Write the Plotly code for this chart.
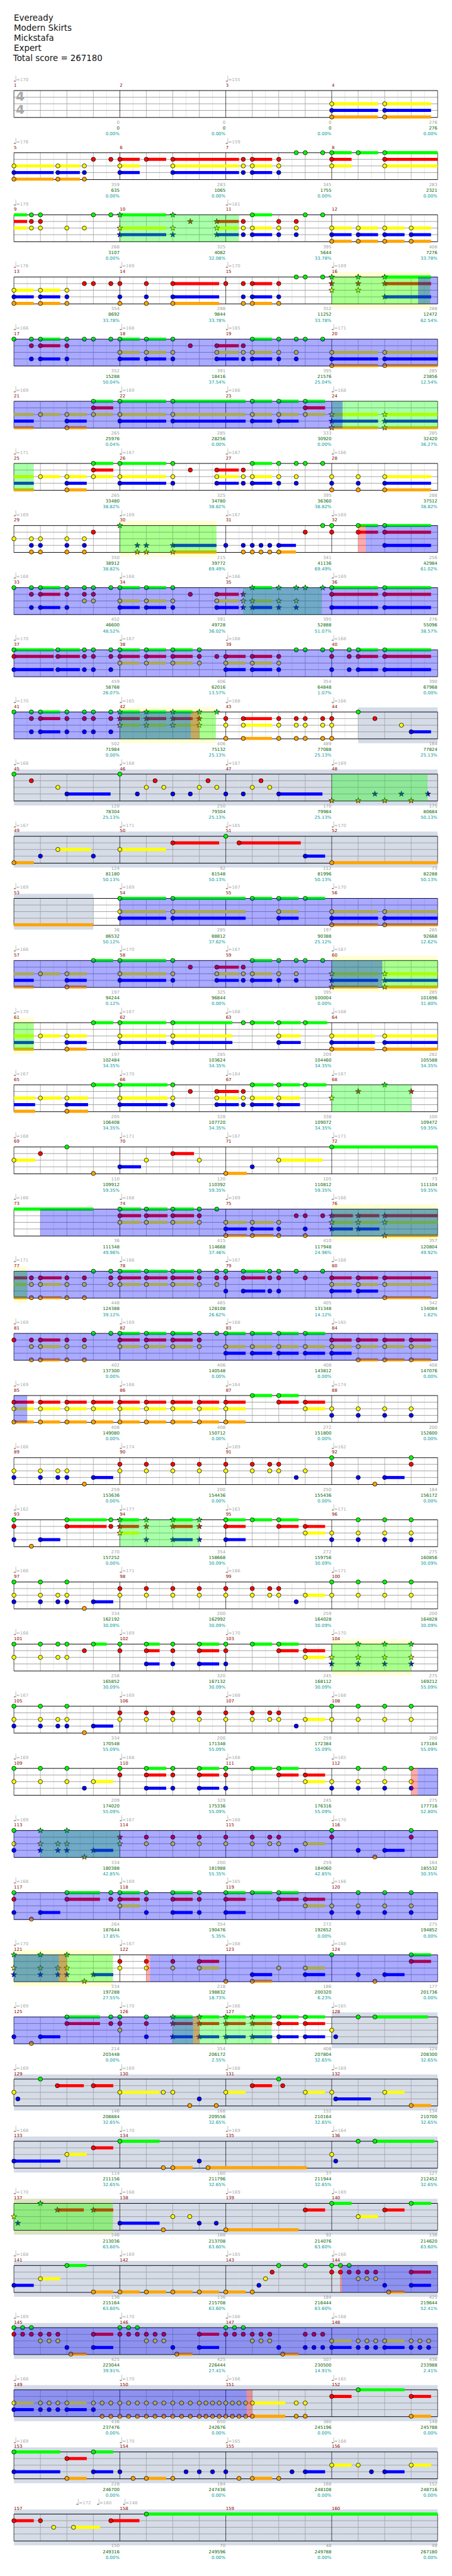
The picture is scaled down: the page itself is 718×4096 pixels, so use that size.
import plotly.graph_objects as go

S = 0.7
FONT = "DejaVu Sans"
TITLE_LINES = ["Eveready", "Modern Skirts", "Mickstafa", "Expert", "Total score = 267180"]
TITLE_PX = [42, 65, 88, 111, 134]

# tempo per measure (None = no mark at the measure start)
TEMPOS = [170,None,155,None, 176,None,159,None, 179,None,161,None, 176,169,170,169,
 166,168,165,171, 169,169,166,168, 171,167,167,166, 169,169,167,169,
 168,168,166,169, 170,167,168,168, 170,165,168,166, 168,168,167,169,
 167,171,165,170, 169,169,167,170, 166,170,167,167, 170,167,168,168,
 167,170,164,167, 168,171,167,171, 166,168,169,166, 171,166,167,168,
 169,169,168,165, 169,168,164,174, 166,174,169,162, 162,177,163,171,
 166,171,166,171, 166,169,170,170, 167,169,168,168, 169,168,168,165,
 169,167,168,170, 168,169,165,166, 170,167,168,168, 169,170,166,165,
 169,169,168,169, 168,170,169,164, 170,168,169,169, 168,169,165,166,
 169,170,166,168, 168,170,166,165, 169,170,165,168, None,None,None,None]
EXTRA_TEMPO_ROW = 40
EXTRA_TEMPO_BEAT = [2.36, 3.14, 4.12]
EXTRA_TEMPO_VAL = [172, 160, 148]

MEASURE_SCORE = [0,0,0,276, 359,283,345,283, 268,325,395,408, 354,288,352,288,
 352,391,395,285, 265,285,333,285, 265,325,395,288, 350,215,341,256,
 452,391,395,276, 459,406,354,390, 502,406,489,184, 120,250,170,175,
 124,92,112,73, 36,285,197,285, 197,325,395,285, 197,285,209,282,
 205,328,338,100, 110,120,105,73, 36,415,410,357, 448,465,405,342,
 402,406,408,408, 408,408,272,200, 259,200,250,184, 270,354,272,275,
 334,200,259,200, 256,320,245,275, 334,200,259,200, 209,329,245,275,
 334,200,259,184, 264,354,272,275, 334,218,186,177, 214,354,408,124,
 146,168,152,134, 114,160,37,127, 146,168,92,136, 136,136,184,425,
 425,425,507,436, 436,650,380,148, 228,184,168,152, 150,70,48,48]
CUMULATIVE = [0,0,0,276, 635,1065,1755,2321, 3107,4082,5644,7276, 8692,9844,11252,12472,
 15288,18416,21576,23856, 25976,28256,30920,32420, 33480,34780,36360,37512, 38912,39772,41136,42984,
 46600,49728,52888,55096, 58768,62016,64848,67968, 71984,75132,77088,77824, 78304,79304,79984,80684,
 81180,81548,81996,82288, 86532,88812,90388,92668, 94244,96844,100004,101696, 102484,103624,104460,105588,
 106408,107720,109072,109472, 109912,110392,110812,111104, 111348,114668,117948,120804, 124388,128108,131348,134084,
 137300,140548,143812,147076, 149080,150712,151800,152600, 153636,154436,155436,156172, 157252,158668,159756,160856,
 162192,162992,164028,164828, 165852,167132,168112,169212, 170548,171348,172384,173184, 174020,175336,176316,177716,
 180388,181988,184060,185532, 187644,190476,192652,194852, 197288,198832,200320,201736, 203448,206172,207804,208300,
 208884,209556,210164,210700, 211156,211796,211944,212452, 213036,213708,214076,214620, 215164,215708,216444,219644,
 223044,226444,230500,233988, 237476,242676,245196,245788, 246700,247436,248108,248716, 249316,249596,249788,267180]
PERCENT = [0,0,0,0, 0,0,0,0, 0,32.08,33.78,33.78, 33.78,33.78,33.78,62.54,
 50.04,37.54,25.04,12.54, 0.04,0,0,36.27, 38.82,38.82,38.82,38.82, 38.82,69.49,69.49,61.02,
 48.52,36.02,51.07,38.57, 26.07,13.57,1.07,0, 0,25.13,25.13,25.13, 25.13,25.13,25.13,50.13,
 50.13,50.13,50.13,50.13, 50.12,37.62,25.12,12.62, 0.12,0,0,31.80, 34.35,34.35,34.35,34.35,
 34.35,34.35,34.35,59.35, 59.35,59.35,59.35,59.35, 49.96,37.46,24.96,49.92, 39.12,26.62,14.12,1.62,
 0,0,0,0, 0,0,0,0, 0,0,0,0, 0,30.09,30.09,30.09,
 30.09,30.09,30.09,30.09, 30.09,30.09,30.09,55.09, 55.09,55.09,55.09,55.09, 55.09,55.09,55.09,52.80,
 42.85,55.35,42.85,30.35, 17.85,5.35,0,0, 27.55,18.73,6.23,0, 0,2.55,32.65,32.65,
 32.65,32.65,32.65,32.65, 32.65,32.65,32.65,32.65, 63.60,63.60,63.60,63.60, 63.60,63.60,63.60,52.41,
 39.91,27.41,14.91,2.41, 0,0,0,0, 0,0,0,0, 0,0,0,0]

# Notes per row: (beat, lanes[, tail length]).  Capital = round note, lower case = star,
# "~" = tail carried over from the previous row, drawn without a head.
notes_01 = [(12,"YBO",1.75),(14,"YBO",1.75)]
notes_02 = [(0,"YBO",1.5),(1.66,"YBO",.83),(2.66,"YBO"),(3,"R"),(3.66,"R"),(4,"RYB",.75),(5,"R",.75),(6,"RYB",2.5),(8.66,"RYB"),(9,"RYB",.75),(10,"RYB"),(10.66,"G"),(11,"G"),(11.66,"G"),(12,"GRY",.75),(13,"G",.75),(14,"GRY",2)]
notes_03 = [(0,"~GRY",.5),(.66,"GRY"),(1,"GRY"),(2,"Y"),(2.66,"Y"),(3,"G"),(3.66,"G"),(4,"gyb",1.75),(6,"gyb"),(6.66,"r"),(7.66,"ryb",.83),(8.66,"RYB"),(9,"GYB",.75),(10,"RYB"),(10.66,"RYB"),(11,"G"),(11.66,"G"),(12,"YBO",.75),(13,"YBO",.75),(14,"YBO",.75),(15,"YBO",.75)]
notes_04 = [(0,"YBO",.75),(1,"YBO",.75),(2,"YBO"),(2.66,"R"),(3,"R"),(3.66,"R"),(4,"RBO"),(5,"RBO"),(6,"RBO",1.75),(8,"R"),(8.66,"RBO"),(9,"RBO",.75),(10,"RBO"),(10.66,"G"),(11,"G"),(11.66,"G"),(12,"gry"),(13,"gry"),(14,"grb",1.75)]
notes_05 = [(0,"G"),(.66,"GRB"),(1,"GRB",.75),(2,"GRB"),(2.66,"G"),(3,"G"),(3.66,"G"),(4,"GYB",.75),(5,"GYB",.75),(6,"GYB"),(6.66,"R"),(7.66,"RYB",.83),(8.66,"RYB"),(9,"GYB",.75),(10,"GYB"),(10.66,"GYB"),(11,"G"),(11.66,"G"),(12,"YBO",1.75),(14,"YBO",2)]
notes_06 = [(0,"~YBO",.75),(1,"Y",.75),(2,"YBO",.75),(3,"GRY",.75),(4,"GYB",1.75),(6,"GYB",2.75),(9,"GYB",.75),(10,"GYB",.75),(11,"GRY",.75),(12,"ybo",1.75),(14,"ybo",2)]
notes_07 = [(0,"~YBO",.75),(1,"Y",.75),(2,"YBO",.75),(3,"GRY",.75),(4,"GYB",1.75),(6,"GYB"),(6.66,"R"),(7.66,"RYB",.83),(8.66,"RYB"),(9,"GYB",.75),(10,"GYB"),(10.66,"GYB"),(11,"G"),(11.66,"G"),(12,"YBO"),(13,"YBO"),(14,"YBO",1.75)]
notes_08 = [(0,"Y"),(.66,"YBO"),(1,"YBO"),(2,"YBO"),(2.66,"YBO"),(3,"R"),(4,"g"),(4.66,"bo"),(5,"bo"),(6,"bo",1.65),(8,"B"),(8.66,"BO"),(9,"BO"),(9.33,"BO"),(9.66,"BO"),(10,"BO",.65),(11,"R"),(11.66,"G"),(12,"GR"),(13,"GR",.75),(14,"GRB",1.75)]
notes_09 = [(0,"G"),(.66,"GRB"),(1,"GRB",.75),(2,"GRB"),(2.66,"GRY"),(3,"GRY"),(3.66,"G"),(4,"GYB",.75),(5,"GYB",.75),(6,"GYB"),(6.66,"R"),(7.66,"RYB",.83),(8.66,"ryb"),(9,"gyb",.75),(10,"gyb"),(10.66,"gyb"),(11,"g"),(11.66,"g"),(12,"GRB",1.75),(14,"GRB",1.75)]
notes_10 = [(0,"GRB",1.5),(1.66,"GRB",.83),(2.66,"GRB"),(3,"GRB"),(3.66,"GRB"),(4,"GRY",.75),(5,"GRY",.75),(6,"GRY",.75),(7,"GRY"),(7.66,"R"),(8,"RYB",.75),(9,"RYB",.75),(10,"RYB"),(10.66,"G"),(11,"G"),(11.66,"G"),(12,"GRB"),(12.66,"GRB"),(13,"GRB",.75),(14,"GRB",1.75)]
notes_11 = [(0,"G"),(.66,"GRB"),(1,"GRB",.75),(2,"GRB"),(2.66,"GRB"),(3,"GRB"),(3.66,"GRB"),(4,"gry",.75),(5,"gry",.75),(6,"gry",.75),(7,"gry"),(7.66,"g"),(8,"RYO"),(8.66,"RYO",1.08),(10,"RYO"),(10.66,"RYO"),(11,"RYO"),(11.66,"RYO"),(12,"RYO"),(13,"G"),(13.63,"R"),(14.63,"Y"),(15,"B",.75)]
notes_12 = [(0,"G"),(.66,"R"),(1.66,"Y"),(2,"B",1.65),(4,"G"),(4.66,"B"),(5,"Y"),(5.33,"R"),(5.66,"Y"),(6,"B"),(6.66,"B"),(7,"Y"),(7.33,"R"),(7.66,"Y"),(8,"B"),(8.66,"B"),(9,"Y"),(9.33,"R"),(9.66,"Y"),(10,"B",1.65),(12,"o"),(13,"o"),(13.63,"b"),(14,"o"),(14.63,"b"),(15,"o"),(15.63,"b")]
notes_13 = [(0,"O",.75),(1,"B"),(1.66,"Y",1.25),(3,"B"),(4,"Y",1.75),(6,"R",1.75),(8,"G"),(8.5,"R",2.33),(11,"B",.75),(12,"O",4)]
notes_14 = [(0,"~O",3),(4,"GYB",1.75),(6,"GYB",2.75),(9,"G",.75),(10,"GYB",.75),(11,"G",.75),(12,"YBO",1.75),(14,"YBO",2)]
notes_15 = [(0,"~YBO",.75),(1,"Y",.75),(2,"YBO",.75),(3,"G",.75),(4,"GYB",1.75),(6,"GYB"),(6.66,"R"),(7.66,"RYB",.83),(8.66,"RYB"),(9,"GYB",.75),(10,"GYB"),(10.66,"GYB"),(11,"G"),(11.66,"G"),(12,"ybo",1.75),(14,"ybo",2)]
notes_16 = [(0,"~YBO",.75),(1,"Y",.75),(2,"YBO",.75),(3,"G",.75),(4,"GYB",1.75),(6,"GYB",2.25),(8.66,"G"),(9,"G",.83),(10,"GYB",.83),(11,"G",.83),(12,"YBO",1.63),(14,"YBO",2)]
notes_17 = [(0,"~YBO",.8),(1,"Y",.8),(2,"YBO",.8),(3,"G",.8),(4,"GYB",1.8),(6,"GYB"),(6.66,"R"),(7.66,"RYB",.83),(8.66,"RYB"),(9,"GYB",.8),(10,"GYB",.8),(11,"G",.8),(12,"y"),(13,"r"),(14,"g"),(15,"r")]
notes_18 = [(0,"Y",.8),(1,"R"),(2,"G"),(3,"O"),(4,"B",.8),(5,"Y"),(6,"R",.8),(7,"Y"),(8,"O",.8),(9,"B"),(10,"Y",1.65),(12,"G",4)]
notes_19 = [(0,"~G",3),(4,"GRY",.8),(5,"GRY",.8),(6,"GRY",.8),(7,"GRY"),(7.66,"G"),(8,"YBO",.8),(9,"YBO",.8),(10,"YBO"),(10.66,"R"),(11,"RBO"),(11.66,"R"),(12,"ryb",.8),(13,"ryb",.8),(14,"ryo",2)]
notes_20 = [(0,"~RYO",.5),(.66,"RYO"),(1,"RYO",.8),(2,"RYO"),(2.66,"RYO"),(3,"G"),(3.66,"GRY"),(4,"GRY",.8),(5,"GRY",.8),(6,"GRY",.8),(7,"GRY"),(7.66,"GRY"),(8,"GRB"),(8.66,"GRB",.83),(9.66,"GRB"),(10,"GRB"),(10.66,"G"),(11,"R"),(11.66,"G"),(12,"RYB",.75),(13,"RYB",.75),(14,"RYO",1.75)]
notes_21 = [(0,"R"),(.66,"RYO"),(1,"RYO",.75),(2,"RYO"),(2.66,"RYO"),(3,"G"),(3.66,"G"),(4,"GRY",.75),(5,"GRY",.75),(6,"GRY",.75),(7,"GRY"),(7.66,"G"),(8,"GYB",.75),(9,"GYB",.75),(10,"GYB",.75),(11,"GYB",.75),(12,"RYB",.75),(13,"RYO",.75),(14,"RYO",.75),(15,"RYO",.75)]
notes_22 = [(0,"RYO",.75),(1,"RYO",.75),(2,"RYO",.75),(3,"RYO",.75),(4,"RYO",.75),(5,"RYO",.75),(6,"RYO",.75),(7,"RYO",.75),(8,"RYO",.75),(9,"G",.75),(10,"GR",.75),(11,"RY",.75),(12,"YB"),(13,"YB"),(14,"YB"),(15,"YB")]
notes_23 = [(0,"YB"),(1,"YB"),(1.66,"YB"),(2,"YB"),(2.66,"O"),(3,"B",.75),(4,"RY"),(5,"RY"),(6,"RY"),(7,"RY"),(8,"RY"),(9,"RY"),(9.66,"RY"),(10,"RY"),(10.66,"B"),(11,"Y"),(12,"GR"),(13,"B"),(13.63,"O"),(14,"B",.75),(15,"GR")]
notes_24 = [(0,"GRB"),(.66,"O"),(1,"B",.75),(2,"GR",1.5),(3.66,"GR"),(4,"gry",.72),(5,"grb"),(6,"grb",.75),(7,"grb"),(8,"GRB",.75),(9,"G",.75),(10,"GR",.75),(11,"RY",.75),(12,"YB"),(13,"GYB"),(14,"GYB"),(15,"GYB")]
notes_25 = [(0,"GYB"),(1,"GYB"),(1.66,"YB"),(2,"GYB"),(2.66,"O"),(3,"B",.75),(4,"RY"),(5,"RY"),(6,"RY"),(7,"RY"),(8,"RY"),(9,"RY"),(9.66,"RY"),(10,"RY"),(10.66,"B"),(11,"Y",.75),(12,"GY"),(13,"GY"),(14,"GY"),(15,"GY")]
notes_26 = [(0,"GY"),(1,"GY"),(1.66,"GY"),(2,"GY"),(2.66,"R"),(3,"G",.5),(4,"GR"),(5,"GRB",.5),(6,"GRB"),(7,"GRB",.75),(8,"GRB"),(9,"G",.75),(10,"GR",.75),(11,"RY",.75),(12,"yb"),(13,"gyb"),(14,"gyb"),(15,"gyb")]
notes_27 = [(0,"GYB"),(1,"GYB"),(1.66,"YB"),(2,"GYB"),(2.66,"O"),(3,"B",.75),(4,"RY"),(5,"RY"),(6,"RY"),(7,"RY"),(8,"RY"),(9,"RY"),(9.66,"RY"),(10,"RY"),(10.66,"B"),(11,"Y",.75),(12,"GY"),(13,"GY"),(14,"GY"),(15,"GY")]
notes_28 = [(0,"GY"),(1,"GY"),(2,"GY"),(2.66,"B"),(3,"Y",.75),(4,"GR"),(5,"GRB",.75),(6,"GRB"),(7,"GRB",.75),(8,"GRB"),(9,"G",.75),(10,"GR",.75),(11,"RY",.75),(12,"YB"),(13,"GYB"),(14,"GYB"),(15,"GYB")]
notes_29 = [(0,"GYB"),(1,"gyb"),(1.66,"yb"),(2,"gyb"),(2.66,"o"),(3,"b",.75),(4,"ry"),(5,"RY"),(6,"RY"),(7,"RY"),(8,"RY"),(9,"RY"),(9.66,"RY"),(10,"RY"),(10.66,"B"),(11,"Y",.75),(12,"GR"),(13,"B"),(13.63,"O"),(14,"B",.75),(15,"GR")]
notes_30 = [(0,"GRB"),(.66,"O"),(1,"B",.75),(2,"GR",1.25),(3.66,"GR"),(4,"GRY",.75),(5,"GRB"),(6,"GRB",.75),(7,"GRB"),(8,"GRB",.75),(9,"G",.75),(10,"GR",.75),(11,"RY",.75),(12,"YB"),(13,"GYB"),(14,"GYB"),(15,"GYB")]
notes_31 = [(0,"gyb"),(1,"gyb"),(1.66,"yb"),(2,"gyb"),(2.66,"o"),(3,"b",.75),(4,"RY"),(5,"RY"),(6,"RY"),(7,"RY",.75),(8,"O"),(9,"BO",.75),(10,"Y"),(11,"YB",.75),(12,"G"),(13,"B"),(13.63,"O"),(14,"B",.75),(15,"GR",.75)]
notes_32 = [(0,"B"),(.66,"O"),(1,"B",.75),(2,"GR",1.25),(3.66,"GR"),(4,"GRY"),(5,"GRB"),(6,"grb",.75),(7,"grb",.75),(8,"grb",.75),(9,"grb",.75),(10,"GRB",.75),(11,"GRB",.75),(12,"Y"),(12.15,"B"),(13,"G"),(13.63,"G",2)]
notes_33 = [(0,"Y"),(.15,"B"),(1,"G"),(1.64,"R",1),(3,"R",.75),(4,"Y",1.5),(5.64,"Y"),(6,"Y"),(6.64,"O"),(7,"B"),(7.64,"O"),(8,"Y",.75),(9,"R",.75),(10,"G"),(10.15,"R"),(11,"Y",.75),(12,"Y"),(12.15,"B",1.33),(14,"Y",.75),(15,"O",.75)]
notes_34 = [(0,"B",1.75),(2,"Y",.75),(3,"R",.75),(4,"G",1.5),(5.64,"O"),(6,"O",.75),(7,"B"),(7.33,"O",3.74),(12,"Y"),(12.15,"B"),(13,"G"),(13.63,"G",2.24)]
notes_35 = [(0,"y"),(.15,"b"),(1,"g"),(1.64,"r",1),(3,"r",.75),(4,"B",1.5),(5.64,"O"),(6,"Y"),(6.64,"Y"),(7,"B"),(7.64,"B"),(8,"O",2.75),(11,"R",.75),(12,"G",.75),(13,"Y",.75),(14,"R",.75),(15,"G",.75)]
notes_36 = [(0,"B",.75),(1,"Y",.75),(2,"G",.75),(3,"O",.75),(4,"O",.75),(5,"O",.75),(6,"O",.75),(7,"O",.75),(8,"O",.75),(9,"O"),(9.25,"B"),(9.5,"Y"),(9.75,"R"),(10,"G"),(11,"G"),(12,"GR"),(12.33,"GR"),(12.66,"GR"),(13,"RY"),(13.33,"RY"),(13.66,"RY"),(14,"B"),(14.15,"O",.6),(15,"RB",.75)]
notes_37 = [(0,"GR"),(.33,"GR"),(.66,"GR"),(1,"RY"),(1.33,"RY"),(1.66,"RY"),(2,"B"),(2.15,"O",.6),(3,"RB",.75),(4,"GR"),(4.33,"GR"),(4.66,"GR"),(5,"RY"),(5.33,"RY"),(5.66,"RY"),(6,"B"),(6.15,"O",.6),(7,"RB",.75),(8,"GR"),(8.33,"GR"),(8.66,"GR"),(9,"RY"),(9.33,"RY"),(9.66,"RY"),(10,"B"),(10.15,"O",.6),(11,"RB"),(11.33,"RB"),(11.66,"RB"),(12,"YB",.75),(13,"YB"),(13.33,"YB"),(13.66,"YB"),(14,"YB",.75),(15,"YB"),(15.33,"YB"),(15.66,"YB")]
notes_38 = [(0,"YB",.75),(1,"YB"),(1.33,"YB"),(1.66,"YB"),(2,"YB",.75),(3,"YB"),(3.33,"YO"),(3.66,"YO"),(4,"YO"),(4.33,"YO"),(4.66,"YO"),(5,"YO"),(5.33,"YO"),(5.66,"YO"),(6,"YO"),(6.33,"YO"),(6.66,"YO"),(7,"YO"),(7.25,"YO"),(7.5,"YO"),(7.75,"YO"),(8,"YO"),(8.25,"YO"),(8.5,"YO"),(8.75,"YO"),(9,"YO",1.25),(10.66,"YO"),(11,"YO"),(12,"R",.75),(13,"G",1.75),(15,"RO",.75)]
notes_39 = [(0,"GB",1.75),(2,"RO",.75),(3,"GB",.75),(4,"B"),(4.5,"O"),(5,"O",.75),(6,"O"),(6.5,"B"),(7,"B"),(7.5,"B"),(8,"B"),(8.5,"O"),(9,"O",.75),(10,"O"),(10.5,"B"),(11,"B",.75),(12,"Y",.75),(13,"Y"),(13.5,"B"),(14,"B",.75),(15,"Y",.75)]
notes_40 = [(0,"R",.75),(1,"R"),(1.5,"Y"),(2.25,"Y",1),(3.66,"R",1.08),(5,"G",11)]
ROW_NOTES = [notes_01,notes_02,notes_03,notes_04,notes_05,notes_06,notes_07,notes_08,notes_09,notes_10,
 notes_11,notes_12,notes_13,notes_14,notes_15,notes_16,notes_17,notes_18,notes_19,notes_20,
 notes_21,notes_22,notes_23,notes_24,notes_25,notes_26,notes_27,notes_28,notes_29,notes_30,
 notes_31,notes_32,notes_33,notes_34,notes_35,notes_36,notes_37,notes_38,notes_39,notes_40]

# Regions: (row, start beat, end beat)
GREEN_ZONES = [(3,4,8.49),(4,12,15.72),(6,12,16),(7,0,.75),(8,4,7.65),(9,8.65,11.63),(11,4,7.63),(12,12,15.62),
 (15,12,16),(16,0,.75),(17,12,15),(19,12,16),(20,0,.5),(24,4,7),(26,12,15),(29,1,4),(31,0,3.74),(32,6,9.73),(35,0,3.74)]
BLUE_ZONES = [(4,15.26,16),(5,0,16),(6,0,12.41),(8,13.28,16),(9,0,16),(10,0,16),(11,0,6.68),(14,4,16),(15,0,13.91),
 (19,1,16),(20,0,16),(21,0,16),(22,0,.5),(28,15.24,16),(29,0,16),(30,0,16),(31,0,1.7),(31,5.14,16),(32,0,6.77),
 (36,12.38,16),(37,0,16),(38,0,8.79)]
RED_ZONES = [(8,13,13.28),(11,6.68,7),(28,15,15.24),(31,1.7,2),(31,5,5.14),(32,6.77,7),(36,12.31,12.38),(38,8.79,9)]
YELLOW_BANDS = [(4,12,15.72),(8,4,7.65),(11,4,7.63),(15,12,16),(16,0,.75),(19,12,16),(20,0,.5),(26,12,15),(31,0,3.74),(35,0,3.74)]
GREY_BANDS = [(11,13,16),(12,0,16),(13,0,16),(14,0,3),(32,12,16),(33,0,16),(34,0,16),(35,0,16),(36,0,16),(37,0,16),(38,0,16),(39,0,16),(40,0,16)]

LANE_COLORS = {"G": "#00ff00", "R": "#ff0000", "Y": "#ffff00", "B": "#0000ff", "O": "#ffa500"}
LANE_INDEX = {"G": 0, "R": 1, "Y": 2, "B": 3, "O": 4}

ROW_PITCH = 141 / 15     # one row in lane units
def Y(row, px):          # row is 1-based, px = reference pixels below the staff top
    return (row - 1) * ROW_PITCH + px / 15

fig = go.Figure()

def line_trace(xs, ys, color, width):
    fig.add_trace(go.Scatter(x=xs, y=ys, mode="lines", line=dict(color=color, width=width),
                             hoverinfo="skip", showlegend=False))

def text_trace(xs, ys, texts, color, size, pos, weight=None):
    font = dict(family=FONT, size=size, color=color)
    if weight:
        font["weight"] = weight
    fig.add_trace(go.Scatter(x=xs, y=ys, text=texts, mode="text", textposition=pos, textfont=font,
                             hoverinfo="skip", showlegend=False))

# grid
g = {"light": ([], []), "quarter": ([], []), "bar": ([], []), "lane": ([], []), "edge": ([], [])}
for row in range(1, 41):
    top, bot = Y(row, 0), Y(row, 61)
    for i in range(0, 33):
        b = i / 2
        k = "bar" if i % 8 == 0 else ("quarter" if i % 2 == 0 else "light")
        g[k][0].extend([b, b, None]); g[k][1].extend([top, bot, None])
    for lane in (15, 30, 45):
        g["lane"][0].extend([0, 16, None]); g["lane"][1].extend([Y(row, lane), Y(row, lane), None])
    for v in (top, bot):
        g["edge"][0].extend([0, 16, None]); g["edge"][1].extend([v, v, None])
line_trace(*g["light"], "#dddddd", 0.7)
line_trace(*g["quarter"], "#999999", 0.7)
line_trace(*g["lane"], "#a0a0a0", 0.95)
line_trace(*g["bar"], "#000000", 0.7)
line_trace(*g["edge"], "#000000", 0.95)

# sustain tails
tails = {k: ([], []) for k in LANE_COLORS}
heads = {"x": [], "y": [], "c": [], "s": []}
for r, notes in enumerate(ROW_NOTES, 1):
    for n in notes:
        beat, lanes = n[0], n[1]
        length = n[2] if len(n) > 2 else 0
        carried = lanes.startswith("~")
        for ch in lanes.lstrip("~"):
            up = ch.upper()
            y = Y(r, 15 * LANE_INDEX[up])
            if length:
                tails[up][0].extend([beat, beat + length, None]); tails[up][1].extend([y, y, None])
            if not carried:
                heads["x"].append(beat); heads["y"].append(y)
                heads["c"].append(LANE_COLORS[up]); heads["s"].append("circle" if ch == up else "star")
for k, (xs, ys) in tails.items():
    line_trace(xs, ys, LANE_COLORS[k], 7 * S)

circ = [i for i, s in enumerate(heads["s"]) if s == "circle"]
star = [i for i, s in enumerate(heads["s"]) if s == "star"]
fig.add_trace(go.Scatter(x=[heads["x"][i] for i in circ], y=[heads["y"][i] for i in circ], mode="markers",
                         marker=dict(symbol="circle", size=9.5 * S, color=[heads["c"][i] for i in circ],
                                     line=dict(color="#000000", width=0.75)),
                         hoverinfo="skip", showlegend=False))
fig.add_trace(go.Scatter(x=[heads["x"][i] for i in star], y=[heads["y"][i] for i in star], mode="markers",
                         marker=dict(symbol="star", size=9.5 * S, color=[heads["c"][i] for i in star],
                                     line=dict(color="#000000", width=0.65)),
                         hoverinfo="skip", showlegend=False))

# texts
tx, ty, tt = [], [], []
nx, ny, nt = [], [], []
mx, my, mt = [], [], []
sx = [[], [], []]; sy = [[], [], []]; st = [[], [], []]
for m in range(160):
    row = m // 4 + 1
    beat = (m % 4) * 4
    mx.append(beat); my.append(Y(row, -11.5)); mt.append(str(m + 1))
    if TEMPOS[m] is not None:
        nx.append(beat - 0.03); ny.append(Y(row, -25)); nt.append("\u2669")
        tx.append(beat + 0.09); ty.append(Y(row, -24)); tt.append("=%d" % TEMPOS[m])
    end = beat + 4 - 0.01
    for j, (px, val) in enumerate(((73, str(MEASURE_SCORE[m])), (86, str(CUMULATIVE[m])), (99, "%.2f%%" % PERCENT[m]))):
        sx[j].append(end); sy[j].append(Y(row, px)); st[j].append(val)
for b, v in zip(EXTRA_TEMPO_BEAT, EXTRA_TEMPO_VAL):
    nx.append(b - 0.03); ny.append(Y(EXTRA_TEMPO_ROW, -25)); nt.append("\u2669")
    tx.append(b + 0.09); ty.append(Y(EXTRA_TEMPO_ROW, -24)); tt.append("=%d" % v)

text_trace(nx, ny, nt, "#999999", 19 * S, "middle right")
text_trace(tx, ty, tt, "#aaaaaa", 10 * S, "middle right")
text_trace(mx, my, mt, "#8b0000", 10 * S, "middle right")
text_trace(sx[0], sy[0], st[0], "#a0a0a0", 10 * S, "middle left")
text_trace(sx[1], sy[1], st[1], "#006400", 10 * S, "middle left")
text_trace(sx[2], sy[2], st[2], "#009999", 10 * S, "middle left")
text_trace([0.0, 0.0, 0.0, 0.0, -0.03], [(p - 205.5) / 15 for p in TITLE_PX], TITLE_LINES, "#111111", 19.1 * S, "middle right")
text_trace([0.24, 0.24], [Y(1, 15.5), Y(1, 46)], ["4", "4"], "#aaaaaa", 29 * S, "middle center", weight="bold")

# regions
shapes = []
def band(zones, color, op, t, b, layer):
    for r, a, e in zones:
        shapes.append(dict(type="rect", xref="x", yref="y", x0=a, x1=e, y0=Y(r, t), y1=Y(r, b),
                           fillcolor=color, opacity=op, line=dict(width=0), layer=layer))
band(GREY_BANDS, "#d5dce8", 1, -10.5, 71, "below")
band(YELLOW_BANDS, "#ffff00", 0.17, -11, 71, "below")
band(GREEN_ZONES, "#00ff00", 1 / 3, 0, 61, "above")
band(BLUE_ZONES, "#0000ff", 1 / 3, 0, 61, "above")
band(RED_ZONES, "#ff0000", 1 / 3, 0, 61, "above")

fig.update_layout(
    width=718, height=4096, margin=dict(l=0, r=0, t=0, b=0, pad=0),
    paper_bgcolor="#ffffff", plot_bgcolor="#ffffff", showlegend=False, shapes=shapes,
    xaxis=dict(range=[-31.5 / 60, (1024 - 31.5) / 60], visible=False, fixedrange=True),
    yaxis=dict(range=[(5845 - 205.5) / 15, -205.5 / 15], visible=False, fixedrange=True),
)
fig.write_html("out.html", config=dict(displayModeBar=False), post_script="document.body.style.margin='0';")
